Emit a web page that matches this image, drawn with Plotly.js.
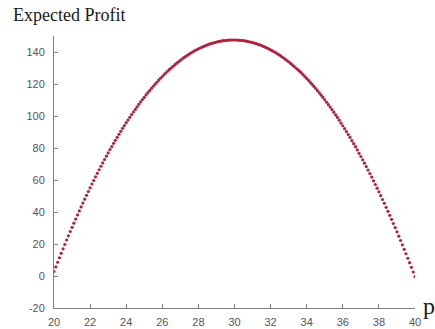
<!DOCTYPE html>
<html>
<head>
<meta charset="utf-8">
<script src="https://cdn.plot.ly/plotly-3.0.1.min.js"></script>
<style>html,body{margin:0;padding:0;background:#fff;}#chart{width:435px;height:329px;}</style>
</head>
<body>
<div id="chart"></div>
<script>
const price = [
20.0,20.1,20.2,20.3,20.4,20.5,20.6,20.7,20.8,20.9,
21.0,21.1,21.2,21.3,21.4,21.5,21.6,21.7,21.8,21.9,
22.0,22.1,22.2,22.3,22.4,22.5,22.6,22.7,22.8,22.9,
23.0,23.1,23.2,23.3,23.4,23.5,23.6,23.7,23.8,23.9,
24.0,24.1,24.2,24.3,24.4,24.5,24.6,24.7,24.8,24.9,
25.0,25.1,25.2,25.3,25.4,25.5,25.6,25.7,25.8,25.9,
26.0,26.1,26.2,26.3,26.4,26.5,26.6,26.7,26.8,26.9,
27.0,27.1,27.2,27.3,27.4,27.5,27.6,27.7,27.8,27.9,
28.0,28.1,28.2,28.3,28.4,28.5,28.6,28.7,28.8,28.9,
29.0,29.1,29.2,29.3,29.4,29.5,29.6,29.7,29.8,29.9,
30.0,30.1,30.2,30.3,30.4,30.5,30.6,30.7,30.8,30.9,
31.0,31.1,31.2,31.3,31.4,31.5,31.6,31.7,31.8,31.9,
32.0,32.1,32.2,32.3,32.4,32.5,32.6,32.7,32.8,32.9,
33.0,33.1,33.2,33.3,33.4,33.5,33.6,33.7,33.8,33.9,
34.0,34.1,34.2,34.3,34.4,34.5,34.6,34.7,34.8,34.9,
35.0,35.1,35.2,35.3,35.4,35.5,35.6,35.7,35.8,35.9,
36.0,36.1,36.2,36.3,36.4,36.5,36.6,36.7,36.8,36.9,
37.0,37.1,37.2,37.3,37.4,37.5,37.6,37.7,37.8,37.9,
38.0,38.1,38.2,38.3,38.4,38.5,38.6,38.7,38.8,38.9,
39.0,39.1,39.2,39.3,39.4,39.5,39.6,39.7,39.8,39.9,
40.0
];
const expectedProfit = [
2.8,5.7,8.6,11.4,14.2,17.0,19.7,22.5,25.1,27.8,
30.4,33.0,35.6,38.2,40.7,43.2,45.6,48.0,50.4,52.8,
55.1,57.5,59.7,62.0,64.2,66.4,68.6,70.7,72.8,74.9,
76.9,79.0,80.9,82.9,84.8,86.7,88.6,90.4,92.3,94.0,
95.8,97.5,99.2,100.9,102.5,104.1,105.7,107.3,108.8,110.3,
111.7,113.2,114.6,115.9,117.3,118.6,119.9,121.1,122.4,123.6,
124.7,125.9,127.0,128.1,129.1,130.1,131.1,132.1,133.0,133.9,
134.8,135.7,136.5,137.3,138.0,138.8,139.5,140.1,140.8,141.4,
142.0,142.5,143.0,143.5,144.0,144.4,144.9,145.2,145.6,145.9,
146.2,146.5,146.7,146.9,147.1,147.2,147.3,147.4,147.5,147.5,
147.5,
147.5,147.4,147.3,147.2,147.1,146.9,146.7,146.4,146.2,145.9,
145.6,145.2,144.8,144.4,144.0,143.5,143.0,142.5,141.9,141.3,
140.7,140.1,139.4,138.7,138.0,137.2,136.4,135.6,134.7,133.9,
132.9,132.0,131.0,130.0,129.0,128.0,126.9,125.8,124.6,123.5,
122.3,121.0,119.8,118.5,117.2,115.8,114.4,113.0,111.6,110.1,
108.6,107.1,105.6,104.0,102.4,100.7,99.1,97.4,95.6,93.9,
92.1,90.3,88.4,86.6,84.6,82.7,80.8,78.8,76.7,74.7,
72.6,70.5,68.4,66.2,64.0,61.8,59.5,57.2,54.9,52.6,
50.2,47.8,45.4,42.9,40.4,37.9,35.4,32.8,30.2,27.6,
24.9,22.2,19.5,16.7,13.9,11.1,8.3,5.4,2.5,-0.4
];
const xTicks = [20,22,24,26,28,30,32,34,36,38,40];
const yTicks = [-20,0,20,40,60,80,100,120,140];
const yTitle = "Expected Profit";
const xTitle = "p";

const tickFont = {family: "Liberation Sans, Arial, sans-serif", size: 11, color: "#555555"};
const axisCommon = {
  showgrid: false, zeroline: false, showline: true, linecolor: "#7f7f7f", linewidth: 1,
  ticks: "inside", ticklen: 4, tickcolor: "#7f7f7f", tickfont: tickFont, fixedrange: true
};

Plotly.newPlot("chart", [{
  type: "scatter", mode: "markers",
  x: price, y: expectedProfit,
  marker: {color: "#ab2440", size: 3.2, line: {width: 0}},
  hoverinfo: "skip"
}], {
  width: 435, height: 329,
  margin: {l: 54, r: 20, t: 36, b: 21, pad: 0},
  paper_bgcolor: "#ffffff", plot_bgcolor: "#ffffff",
  showlegend: false,
  xaxis: Object.assign({}, axisCommon, {range: [20, 40], tickvals: xTicks, ticktext: xTicks.map(String), ticklabelstandoff: 4}),
  yaxis: Object.assign({}, axisCommon, {range: [-20, 150], tickvals: yTicks, ticktext: yTicks.map(String), ticklabelstandoff: 6}),
  annotations: [
    {text: yTitle, xref: "paper", yref: "paper", x: -0.118, y: 1.12, xanchor: "left", yanchor: "top",
     showarrow: false, font: {family: "Liberation Serif, Times New Roman, serif", size: 18, color: "#1a1a1a"}},
    {text: xTitle, xref: "paper", yref: "paper", x: 1.0, xshift: 6, y: 0.0, yshift: 2, xanchor: "left", yanchor: "middle",
     showarrow: false, font: {family: "Liberation Serif, Times New Roman, serif", size: 24, color: "#1a1a1a"}}
  ]
}, {displayModeBar: false, staticPlot: true});
</script>
</body>
</html>
